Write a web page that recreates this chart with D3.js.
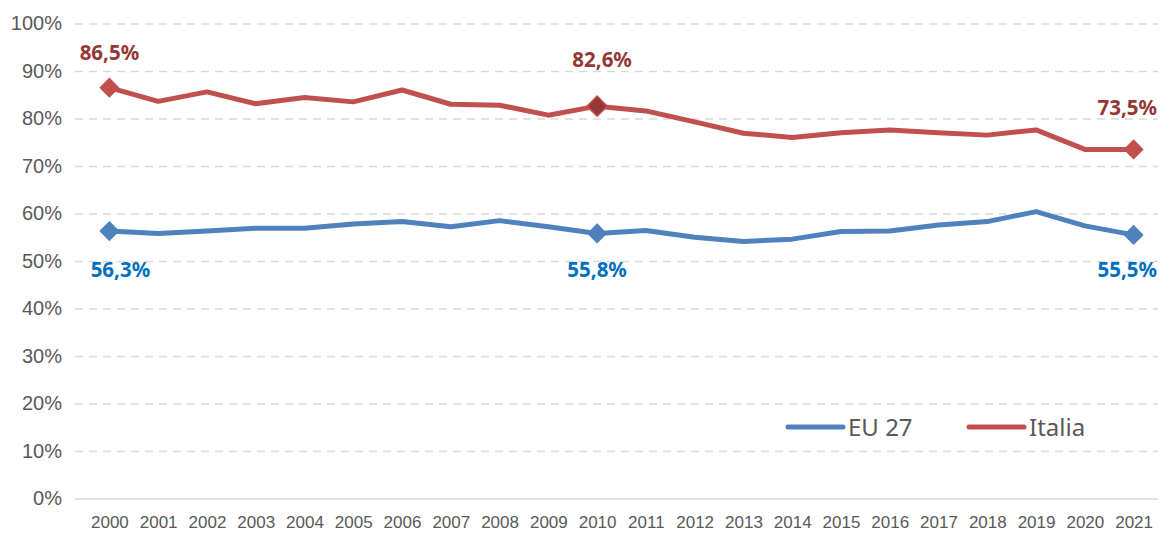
<!DOCTYPE html>
<html>
<head>
<meta charset="utf-8">
<script src="https://cdn.jsdelivr.net/npm/d3@7"></script>
<style>
  html, body { margin: 0; padding: 0; background: #ffffff; }
  svg { display: block; font-family: "Noto Sans", "Open Sans", sans-serif; }
</style>
</head>
<body>
<svg id="chart" width="1165" height="536"></svg>
<script>
// ---- data ----
const years = ["2000","2001","2002","2003","2004","2005","2006","2007","2008","2009","2010",
               "2011","2012","2013","2014","2015","2016","2017","2018","2019","2020","2021"];
const eu27 = [56.3, 55.8, 56.3, 56.9, 56.9, 57.8, 58.3, 57.2, 58.5, 57.2, 55.8,
              56.4, 55.0, 54.1, 54.6, 56.2, 56.3, 57.6, 58.3, 60.4, 57.4, 55.5];
const italia = [86.5, 83.6, 85.6, 83.1, 84.4, 83.5, 86.0, 83.0, 82.8, 80.7, 82.6,
                81.6, 79.3, 76.9, 76.0, 77.0, 77.6, 77.0, 76.5, 77.6, 73.5, 73.5];
const seriesNames = ["EU 27", "Italia"];
const yTicks = [0, 10, 20, 30, 40, 50, 60, 70, 80, 90, 100];
const markedYears = ["2000", "2010", "2021"];

// ---- layout ----
const svg = d3.select("#chart");
const gridLeft = 75, gridRight = 1158, plotLeft = 85;
const x = d3.scalePoint().domain(years).range([plotLeft, gridRight]).padding(0.5);
const y = d3.scaleLinear().domain([0, 100]).range([498.5, 23.5]);

const blue = "#4F81BD", red = "#C0504D";
const blueLabel = "#0070C0", redLabel = "#953735";
const fmt = v => d3.format(".1f")(v).replace(".", ",") + "%";

// y axis with gridlines
const yAxis = d3.axisLeft(y).tickValues(yTicks).tickFormat(d => d + "%")
  .tickSize(-(gridRight - gridLeft)).tickPadding(13);
const gy = svg.append("g").attr("transform", `translate(${gridLeft},0)`).call(yAxis);
gy.select(".domain").remove();
gy.selectAll(".tick line")
  .attr("stroke", "#D9D9D9").attr("stroke-width", 1.5)
  .attr("stroke-dasharray", d => d === 0 ? null : "8,6");
gy.selectAll(".tick text").attr("fill", "#595959").attr("font-size", 20);

// x axis
const xAxis = d3.axisBottom(x).tickSize(0).tickPadding(17);
const gx = svg.append("g").attr("transform", `translate(0,${y(0)})`).call(xAxis);
gx.select(".domain").remove();
gx.selectAll(".tick text").attr("fill", "#595959").attr("font-size", 17);

// lines
const line = d3.line().x((d, i) => x(years[i])).y(d => y(d));
[[eu27, blue], [italia, red]].forEach(([vals, col]) => {
  svg.append("path").datum(vals).attr("d", line)
    .attr("fill", "none").attr("stroke", col).attr("stroke-width", 5)
    .attr("stroke-linejoin", "round");
});

// markers
const diamond = d3.symbol().type(d3.symbolDiamond2).size(260);
function markers(vals, col, darkIdx) {
  markedYears.forEach(yr => {
    const i = years.indexOf(yr);
    const dark = yr === darkIdx;
    svg.append("path").attr("d", diamond)
      .attr("transform", `translate(${x(yr)},${y(vals[i])})`)
      .attr("fill", dark ? redLabel : col)
      .attr("stroke", col).attr("stroke-width", dark ? 1.5 : 0);
  });
}
markers(eu27, blue, null);
markers(italia, red, "2010");

// data labels
const redDy = [-28, -39, -34];
const blueDy = [46, 44, 42];
markedYears.forEach((yr, k) => {
  const i = years.indexOf(yr);
  const last = k === markedYears.length - 1;
  const first = k === 0;
  svg.append("text")
    .attr("x", last ? gridRight - 1 : x(yr) + (first ? 0 : 5))
    .attr("y", y(italia[i]) + redDy[k])
    .attr("text-anchor", last ? "end" : "middle")
    .attr("font-size", 20.5).attr("font-weight", "bold").attr("fill", redLabel)
    .text(fmt(italia[i]));
  svg.append("text")
    .attr("x", last ? gridRight - 1 : x(yr) + (first ? 11 : 0))
    .attr("y", y(eu27[i]) + blueDy[k])
    .attr("text-anchor", last ? "end" : "middle")
    .attr("font-size", 20.5).attr("font-weight", "bold").attr("fill", blueLabel)
    .text(fmt(eu27[i]));
});

// legend
const legend = svg.append("g").attr("transform", "translate(788,427)");
[[seriesNames[0], blue, 0], [seriesNames[1], red, 181]].forEach(([name, col, off]) => {
  legend.append("line").attr("x1", off).attr("x2", off + 55).attr("y1", 0).attr("y2", 0)
    .attr("stroke", col).attr("stroke-width", 5).attr("stroke-linecap", "round");
  legend.append("text").attr("x", off + 60).attr("y", 0).attr("dy", "0.36em")
    .attr("font-size", 24).attr("fill", "#595959").text(name);
});
</script>
</body>
</html>
